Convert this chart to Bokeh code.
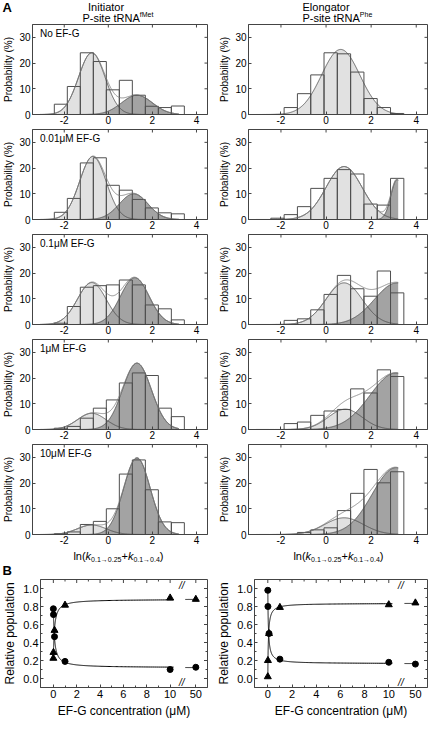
import numpy as np
from bokeh.plotting import figure
from bokeh.layouts import column, row
from bokeh.models import Range1d, FixedTicker, Label
from bokeh.embed import file_html
from bokeh.resources import INLINE

FONT = "Liberation Sans"

# ---------------- data: panel A histograms ----------------
BIN_EDGES = [-2.45, -1.86, -1.27, -0.68, -0.09, 0.50, 1.09, 1.68, 2.27, 2.86, 3.45]
PANEL_LABELS = ["No EF-G", "0.01\u03bcM EF-G", "0.1\u03bcM EF-G", "1\u03bcM EF-G", "10\u03bcM EF-G"]

INIT_PROB = [
    [4.0, 10.9, 24.0, 20.6, 9.6, 13.3, 7.5, 3.2, 2.7, 3.3],
    [2.8, 8.2, 22.0, 24.0, 13.3, 11.4, 7.8, 4.5, 2.6, 2.2],
    [0.5, 7.0, 14.5, 15.1, 15.4, 17.3, 15.4, 7.6, 6.1, 1.8],
    [0.5, 1.2, 4.4, 8.3, 11.5, 18.1, 22.0, 21.0, 8.3, 5.0],
    [0.3, 1.0, 3.9, 5.1, 10.0, 23.5, 29.0, 17.4, 4.9, 4.6],
]
ELONG_PROB = [
    [0.0, 2.7, 8.1, 15.4, 24.0, 23.6, 16.5, 6.2, 2.7, 0.4],
    [0.5, 1.9, 5.0, 12.1, 16.0, 19.4, 17.7, 6.0, 5.6, 16.0],
    [0.0, 1.6, 2.2, 5.7, 11.7, 19.1, 13.9, 11.0, 20.8, 12.3],
    [0.0, 2.3, 2.9, 5.5, 7.2, 7.8, 15.8, 14.2, 23.2, 20.6],
    [0.0, 0.0, 0.8, 1.8, 2.6, 9.3, 16.0, 25.3, 20.1, 24.4],
]
# Gaussian fit components (mean, sd, peak height in %)
INIT_LOW_MU = [-0.75, -0.70, -0.75, -0.75, -0.75]
INIT_LOW_SD = [0.60, 0.60, 0.65, 0.65, 0.65]
INIT_LOW_PK = [24.0, 24.5, 16.3, 6.3, 3.7]
INIT_HIGH_MU = [1.30, 1.15, 1.20, 1.30, 1.30]
INIT_HIGH_SD = [0.70, 0.65, 0.65, 0.65, 0.60]
INIT_HIGH_PK = [7.5, 10.0, 18.2, 25.8, 29.8]

ELONG_LOW_MU = [0.65, 0.80, 0.80, 0.85, 0.80]
ELONG_LOW_SD = [0.85, 0.80, 0.80, 0.75, 0.85]
ELONG_LOW_PK = [25.3, 20.6, 16.2, 7.9, 6.5]
ELONG_HIGH_MU = [3.20, 3.15, 3.15, 3.10, 3.10]
ELONG_HIGH_SD = [0.30, 0.27, 1.00, 1.15, 1.05]
ELONG_HIGH_PK = [0.0, 15.5, 16.2, 22.0, 26.0]

HIST_XTICKS = [-2, 0, 2, 4]
HIST_XTICK_LABELS = ["-2", "0", "2", "4"]
HIST_YTICKS = [0, 10, 20, 30]
HIST_YTICK_LABELS = ["0", "10", "20", "30"]

# ---------------- data: panel B ----------------
B_CONC = [0, 0.01, 0.1, 1, 10, 50]
INIT_POP_LOW = [0.775, 0.71, 0.465, 0.19, 0.10, 0.125]
INIT_POP_HIGH = [0.225, 0.29, 0.535, 0.815, 0.895, 0.88]
ELONG_POP_LOW = [0.98, 0.80, 0.50, 0.215, 0.18, 0.16]
ELONG_POP_HIGH = [0.02, 0.20, 0.50, 0.79, 0.82, 0.84]
# hyperbolic fits: high = y0 + amp*c/(K+c), low = 1 - high
INIT_FIT = (0.225, 0.655, 0.10)
ELONG_FIT = (0.02, 0.815, 0.05)
B_XTICKS = [0, 2, 4, 6, 8, 10, 50]
B_XTICK_LABELS = ["0", "2", "4", "6", "8", "10", "50"]
B_XMINOR = [1, 3, 5, 7, 9]
B_YTICKS = [0.0, 0.2, 0.4, 0.6, 0.8, 1.0]
B_YTICK_LABELS = ["0.0", "0.2", "0.4", "0.6", "0.8", "1.0"]
B_YMINOR = [0.1, 0.3, 0.5, 0.7, 0.9]

# ---------------- style / geometry ----------------
LIGHT = "#e1e1e1"
DARK = "#a3a3a3"
CURVE = "#4a4a4a"
SUMC = "#777777"
BAR = "#4f4f4f"
FRAME = "#444444"

TOTAL_W = 429
HX0, HX1 = -3.44, 4.5
HY0, HY1 = 0, 35
FW = 179
FH = 90
PPX = FW / (HX1 - HX0)   # px per x-unit
LBW, LBR = 28, 3          # left hist column borders
RBW, RBR = 38, 2          # right hist column borders

ARIAL_W = {'l': 222, 'n': 556, '(': 333, ')': 333, 'k': 500, '+': 584, '.': 278,
           '\u2192': 1000, 'P': 667, '-': 333, 's': 500, 'i': 222, 't': 278, 'e': 556,
           ' ': 278, 'R': 722, 'N': 722, 'A': 667}
for d in "0123456789":
    ARIAL_W[d] = 556


def text_w(s, size):
    return sum(ARIAL_W.get(ch, 556) for ch in s) * size / 1000.0


def style_axis(ax, ticks, labels, size, minor=None):
    ax.ticker = FixedTicker(ticks=list(ticks), minor_ticks=list(minor or []))
    ax.major_label_overrides = {t: l for t, l in zip(ticks, labels)}
    ax.axis_line_color = FRAME
    ax.major_tick_line_color = FRAME
    ax.minor_tick_line_color = FRAME
    ax.major_tick_in = 3
    ax.major_tick_out = 0
    ax.minor_tick_in = 2
    ax.minor_tick_out = 0
    ax.major_label_text_font = FONT
    ax.major_label_text_font_size = size
    ax.major_label_text_color = "black"
    ax.axis_label_text_font = FONT
    ax.axis_label_text_font_style = "normal"
    ax.axis_label_text_color = "black"


def mirror_ticks(p, xticks, ytop, yticks, xright, size=6, xminor=(), yminor=()):
    # inward ticks on the top and right frame edges (half of each dash is clipped away)
    p.scatter(x=list(xticks), y=[ytop] * len(xticks), marker="dash", angle=np.pi / 2,
              size=size, line_color=FRAME, line_width=1)
    p.scatter(x=[xright] * len(yticks), y=list(yticks), marker="dash", angle=0,
              size=size, line_color=FRAME, line_width=1)
    if len(xminor):
        p.scatter(x=list(xminor), y=[ytop] * len(xminor), marker="dash", angle=np.pi / 2,
                  size=4, line_color=FRAME, line_width=1)
    if len(yminor):
        p.scatter(x=[xright] * len(yminor), y=list(yminor), marker="dash", angle=0,
                  size=4, line_color=FRAME, line_width=1)


def lbl(p, x, y, text, size, align="left", style="normal", baseline="middle"):
    p.add_layout(Label(x=x, y=y, text=text, text_font=FONT, text_font_size=size,
                       text_align=align, text_baseline=baseline, text_font_style=style,
                       text_color="black"))


def text_fig(w, h):
    p = figure(width=w, height=h, x_range=Range1d(0, w), y_range=Range1d(0, h),
               x_axis_type=None, y_axis_type=None, output_backend="svg",
               toolbar_location=None, min_border=0)
    p.grid.visible = False
    p.outline_line_color = None
    return p


def hist_fig(i, probs, lmu, lsd, lpk, hmu, hsd, hpk, bl, br, bt, bb):
    p = figure(width=bl + FW + br, height=bt + FH + bb,
               x_range=Range1d(HX0, HX1), y_range=Range1d(HY0, HY1),
               output_backend="svg", toolbar_location=None,
               min_border_left=bl, min_border_right=br, min_border_top=bt, min_border_bottom=bb)
    p.grid.visible = False
    p.outline_line_color = FRAME
    xa, ya = p.xaxis[0], p.yaxis[0]
    style_axis(xa, HIST_XTICKS, HIST_XTICK_LABELS, "10px")
    xa.major_label_standoff = 1
    style_axis(ya, HIST_YTICKS, HIST_YTICK_LABELS, "10px")
    ya.major_label_standoff = 2
    ya.axis_label = "Probability (%)"
    ya.axis_label_text_font_size = "10px"
    ya.axis_label_standoff = 2

    xs = np.linspace(-3.1, 3.2, 400)
    g1 = lpk[i] * np.exp(-(xs - lmu[i]) ** 2 / (2 * lsd[i] ** 2))
    g2 = hpk[i] * np.exp(-(xs - hmu[i]) ** 2 / (2 * hsd[i] ** 2))
    p.varea(x=xs, y1=np.zeros_like(xs), y2=g1, fill_color=LIGHT)
    if hpk[i] > 0:
        p.varea(x=xs, y1=np.zeros_like(xs), y2=g2, fill_color=DARK)
    p.quad(left=BIN_EDGES[:-1], right=BIN_EDGES[1:], bottom=0, top=probs[i],
           fill_alpha=0, line_color=BAR, line_width=1)
    p.line(xs, g1, line_color=CURVE, line_width=0.8)
    if hpk[i] > 0:
        p.line(xs, g2, line_color=CURVE, line_width=0.8)
        p.line(xs, g1 + g2, line_color=SUMC, line_width=0.8)
    mirror_ticks(p, HIST_XTICKS, HY1, HIST_YTICKS[1:], HX1)
    if bl == LBW:
        lbl(p, -3.1, HY1 - 9 * (HY1 - HY0) / FH, PANEL_LABELS[i], "10px")
    return p


# ---- titles row ----
TH = 23
title = text_fig(TOTAL_W, TH)
lbl(title, 2, 16, "A", "13px", style="bold")
col_zero = [LBW + (0 - HX0) * PPX, LBW + FW + LBR + RBW + (0 - HX0) * PPX]
for cz, name, sup in zip(col_zero, ["Initiator", "Elongator"], ["fMet", "Phe"]):
    lbl(title, cz, 16.5, name, "11px", align="center")
    x0 = cz - 1.05 * PPX
    lbl(title, x0, 6, "P-site tRNA", "11px")
    lbl(title, x0 + text_w("P-site tRNA", 11), 9.5, sup, "7px")

rows = [title]
for i in range(5):
    bt = 1 if i == 0 else 2
    pl = hist_fig(i, INIT_PROB, INIT_LOW_MU, INIT_LOW_SD, INIT_LOW_PK,
                  INIT_HIGH_MU, INIT_HIGH_SD, INIT_HIGH_PK, LBW, LBR, bt, 13)
    pr = hist_fig(i, ELONG_PROB, ELONG_LOW_MU, ELONG_LOW_SD, ELONG_LOW_PK,
                  ELONG_HIGH_MU, ELONG_HIGH_SD, ELONG_HIGH_PK, RBW, RBR, bt, 13)
    rows.append(row(pl, pr))

# ---- x-axis label row for the histograms, plus the "B" panel letter ----
SH = 30
spacer = text_fig(TOTAL_W, SH)
centers = [LBW + (0.55 - HX0) * PPX, LBW + FW + LBR + RBW + (0.55 - HX0) * PPX]
pieces = [("ln(", 11, "normal", 0), ("k", 11, "italic", 0), ("0.1\u21920.25", 7, "normal", -3.5),
          ("+", 11, "normal", 0), ("k", 11, "italic", 0), ("0.1\u21920.4", 7, "normal", -3.5),
          (")", 11, "normal", 0)]
total = sum(text_w(t, s) for t, s, _, _ in pieces)
for c in centers:
    xp = c - total / 2
    for t, s, st, dy in pieces:
        lbl(spacer, xp, 22 + dy, t, f"{s}px", style=st)
        xp += text_w(t, s)
lbl(spacer, 2, 7, "B", "13px", style="bold")
rows.append(spacer)

# ---------------- panel B ----------------
BX0, BX1 = -1.1, 13.2
BY0, BY1 = -0.1, 1.1
BFW, BFH = 173, 108


def xmap(c):
    c = np.asarray(c, dtype=float)
    return np.where(c <= 10.5, c, 12.2 - (50.0 - c) * 0.09)


def b_fig(low, high, fit, bl, br, bt=2, bb=35):
    p = figure(width=bl + BFW + br, height=bt + BFH + bb,
               x_range=Range1d(BX0, BX1), y_range=Range1d(BY0, BY1),
               output_backend="svg", toolbar_location=None,
               min_border_left=bl, min_border_right=br, min_border_top=bt, min_border_bottom=bb)
    p.grid.visible = False
    p.outline_line_color = FRAME
    xa, ya = p.xaxis[0], p.yaxis[0]
    bxt = [float(v) for v in xmap(B_XTICKS)]
    style_axis(xa, bxt, B_XTICK_LABELS, "11px", B_XMINOR)
    xa.major_label_standoff = 2
    xa.axis_label = "EF-G concentration (\u03bcM)"
    xa.axis_label_text_font_size = "12px"
    xa.axis_label_standoff = 3
    style_axis(ya, B_YTICKS, B_YTICK_LABELS, "11px", B_YMINOR)
    ya.major_label_standoff = 2
    ya.axis_label = "Relative population"
    ya.axis_label_text_font_size = "12px"
    ya.axis_label_standoff = 3
    mirror_ticks(p, bxt, BY1, B_YTICKS, BX1, size=7, xminor=B_XMINOR, yminor=B_YMINOR)

    y0, amp, K = fit
    for cs in (np.concatenate([[0.0], np.geomspace(1e-4, 10.3, 600)]), np.linspace(40, 50, 40)):
        hi = y0 + amp * cs / (K + cs)
        p.line(xmap(cs), hi, line_color="black", line_width=1)
        p.line(xmap(cs), 1 - hi, line_color="black", line_width=1)
    p.scatter(xmap(B_CONC), low, marker="circle", size=6, color="black")
    p.scatter(xmap(B_CONC), high, marker="triangle", size=7, color="black")
    lbl(p, 11.0, BY0, "//", "10px", align="center", style="italic", baseline="bottom")
    lbl(p, 11.0, BY1, "//", "10px", align="center", style="italic", baseline="top")
    return p


bl_ = b_fig(INIT_POP_LOW, INIT_POP_HIGH, INIT_FIT, 34, 3)
br_ = b_fig(ELONG_POP_LOW, ELONG_POP_HIGH, ELONG_FIT, 44, 2)
rows.append(row(bl_, br_))

layout = column(*rows)
open("out.html", "w").write(file_html(layout, INLINE))
